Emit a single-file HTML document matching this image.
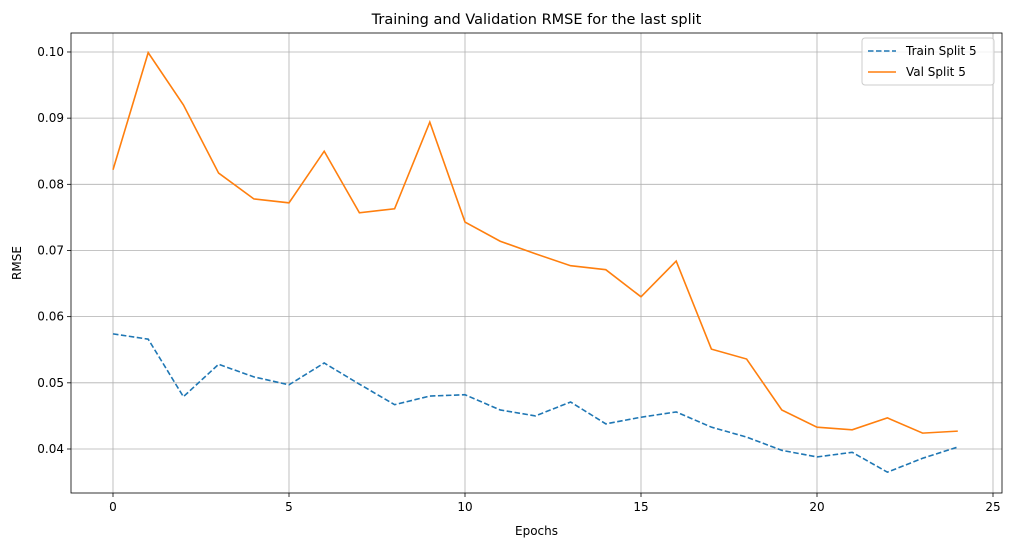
<!DOCTYPE html>
<html><head><meta charset="utf-8"><style>
body{margin:0;background:#fff;font-family:"Liberation Sans","DejaVu Sans",sans-serif}
svg text{font-family:"DejaVu Sans","Liberation Sans",sans-serif;fill:#000}
</style></head><body>
<svg id="chart" width="1011" height="547" xmlns="http://www.w3.org/2000/svg"></svg>
<script>
const epochs=[0,1,2,3,4,5,6,7,8,9,10,11,12,13,14,15,16,17,18,19,20,21,22,23,24];
const trainValues=[0.0574,0.0566,0.0479,0.0528,0.0509,0.0497,0.0530,0.0498,0.0467,0.0480,0.0482,0.0459,0.0450,0.0471,0.0438,0.0448,0.0456,0.0433,0.0418,0.0398,0.0388,0.0395,0.0365,0.0386,0.0403];
const valValues=[0.0822,0.0999,0.0920,0.0817,0.0778,0.0772,0.0850,0.0757,0.0763,0.0894,0.0743,0.0714,0.0695,0.0677,0.0671,0.0630,0.0684,0.0551,0.0536,0.0459,0.0433,0.0429,0.0447,0.0424,0.0427];
const xTicks=[0,5,10,15,20,25];
const yTicks=[0.04,0.05,0.06,0.07,0.08,0.09,0.10];
const yTickLabels=["0.04","0.05","0.06","0.07","0.08","0.09","0.10"];

const svg=document.getElementById('chart');
const NS='http://www.w3.org/2000/svg';
const L=71,R=1002,T=33,B=493;
const xs=v=>113+v*35.2;
const ys=v=>449-(v-0.04)*6617;
function mk(tag,attrs,parent){const e=document.createElementNS(NS,tag);for(const k in attrs)e.setAttribute(k,attrs[k]);(parent||svg).appendChild(e);return e;}

const grid=mk('g',{});


xTicks.forEach(t=>{
  const g=mk('line',{x1:xs(t),x2:xs(t),y1:T,y2:B,stroke:'#b0b0b0','stroke-width':0.8},grid);
  
  
  const tk=mk('line',{x1:xs(t),x2:xs(t),y1:B,y2:B+4,stroke:'#000','stroke-width':0.8});
  
  
  const tx=mk('text',{x:xs(t),y:B+18,'text-anchor':'middle','font-size':12});
  tx.textContent=t;
  
  
});
yTicks.forEach((t,i)=>{
  const g=mk('line',{x1:L,x2:R,y1:ys(t),y2:ys(t),stroke:'#b0b0b0','stroke-width':0.8},grid);
  
  
  const tk=mk('line',{x1:L-4,x2:L,y1:ys(t),y2:ys(t),stroke:'#000','stroke-width':0.8});
  
  
  const tx=mk('text',{x:L-7,y:ys(t)+4,'text-anchor':'end','font-size':12});
  tx.textContent=yTickLabels[i];
  
  
});

function line(vals,color,dash,name){
  const p=mk('polyline',{points:epochs.map((e,i)=>xs(e)+','+ys(vals[i])).join(' '),fill:'none',stroke:color,'stroke-width':1.6,'stroke-dasharray':dash});
  
  
}
line(trainValues,'#1f77b4','5.5,2.5','train-split-5-line');
line(valValues,'#ff7f0e','none','val-split-5-line');

const frame=mk('rect',{x:L,y:T,width:R-L,height:B-T,fill:'none',stroke:'#000','stroke-width':0.8});



const title=mk('text',{x:(L+R)/2,y:24,'text-anchor':'middle','font-size':14.5});
title.textContent='Training and Validation RMSE for the last split';


const xl=mk('text',{x:(L+R)/2,y:535,'text-anchor':'middle','font-size':12});
xl.textContent='Epochs';


const yl=mk('text',{x:21,y:263,'text-anchor':'middle','font-size':12,transform:'rotate(-90 21 263)'});
yl.textContent='RMSE';



const lg=mk('g',{});


mk('rect',{x:862,y:38,width:132,height:47,rx:3,fill:'#fff','fill-opacity':0.8,stroke:'#ccc'},lg);
const e1=mk('line',{x1:868,x2:896,y1:51,y2:51,stroke:'#1f77b4','stroke-width':1.6,'stroke-dasharray':'5.5,2.5'},lg);


const t1=mk('text',{x:906,y:55,'font-size':12},lg);t1.textContent='Train Split 5';


const e2=mk('line',{x1:868,x2:896,y1:72,y2:72,stroke:'#ff7f0e','stroke-width':1.6},lg);


const t2=mk('text',{x:906,y:76,'font-size':12},lg);t2.textContent='Val Split 5';


</script>
</body></html>
